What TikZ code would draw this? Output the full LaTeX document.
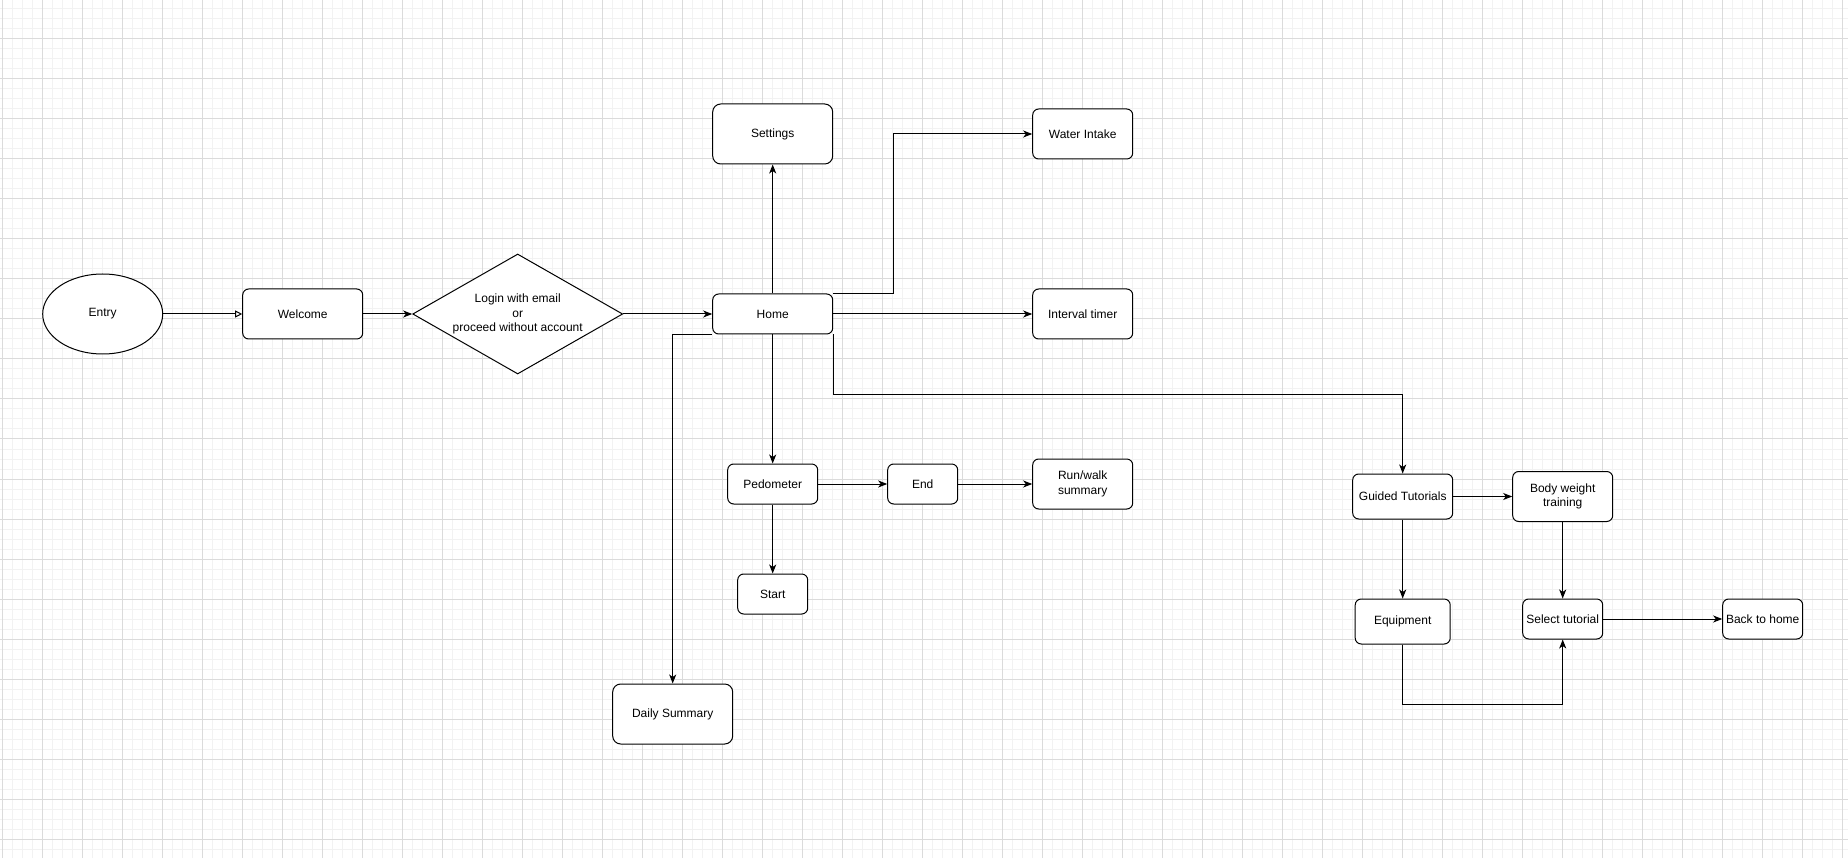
\documentclass[tikz,border=0pt]{standalone}
\usepackage{fontspec}
\setmainfont{Liberation Sans}
\usetikzlibrary{shapes.geometric,arrows.meta}
\begin{document}
\begin{tikzpicture}[x=1pt,y=-1pt,
  box/.style={draw=black, line width=1pt, rounded corners=6pt, fill=white, align=center, inner sep=0pt,
    font=\fontsize{12pt}{14.4pt}\selectfont},
  arr/.style={draw=black, line width=1pt, -{Stealth[length=9pt,width=7pt,inset=2.5pt]}},
  minorline/.style={draw=black!5, line width=1pt},
  majorline/.style={draw=black!14, line width=1pt}]
\useasboundingbox (-2.7,1) rectangle (1845.3,859);
\fill[white] (-2.7,1) rectangle (1845.3,859);
\foreach \i in {0,10,...,1840} \draw[minorline] (\i,1) -- (\i,859);
\foreach \j in {10,20,...,850} \draw[minorline] (-2.7,\j) -- (1845.3,\j);
\foreach \i in {0,40,...,1840} \draw[majorline] (\i,1) -- (\i,859);
\foreach \j in {40,80,...,840} \draw[majorline] (-2.7,\j) -- (1845.3,\j);

\node[box, ellipse, minimum width=120pt, minimum height=80pt] (entry) at (100,315) {Entry};
\node[box, minimum width=120pt, minimum height=50pt] (welcome) at (300,315) {Welcome};
\node[box, diamond, rounded corners=0pt, minimum width=210pt, minimum height=120pt, aspect=1.75] (login) at (515,315) {};
\node[font=\fontsize{12pt}{14.4pt}\selectfont, align=center] (logintext) at (515,315) {Login with email\\or\\proceed without account};
\node[box, minimum width=120pt, minimum height=40pt] (home) at (770,315) {Home};
\node[box, rounded corners=8pt, minimum width=120pt, minimum height=60pt] (settings) at (770,135) {Settings};
\node[box, minimum width=100pt, minimum height=50pt] (water) at (1080,135) {Water Intake};
\node[box, minimum width=100pt, minimum height=50pt] (interval) at (1080,315) {Interval timer};
\node[box, minimum width=90pt, minimum height=40pt] (ped) at (770,485) {Pedometer};
\node[box, minimum width=70pt, minimum height=40pt] (endn) at (920,485) {End};
\node[box, minimum width=100pt, minimum height=50pt] (run) at (1080,485) {Run/walk\\summary};
\node[box, minimum width=70pt, minimum height=40pt] (start) at (770,595) {Start};
\node[box, rounded corners=8pt, minimum width=120pt, minimum height=60pt] (daily) at (670,715) {Daily Summary};
\node[box, minimum width=100pt, minimum height=45pt] (guided) at (1400,497.5) {Guided Tutorials};
\node[box, minimum width=100pt, minimum height=50pt] (body) at (1560,497.5) {Body weight\\training};
\node[box, minimum width=95pt, minimum height=45pt] (equip) at (1400,622.5) {Equipment};
\node[box, minimum width=80pt, minimum height=40pt] (select) at (1560,620) {Select tutorial};
\node[box, minimum width=80pt, minimum height=40pt] (back) at (1760,620) {Back to home};

\draw[line width=1pt, -{Triangle[open,length=7pt,width=7pt]}] (entry) -- (welcome);
\draw[arr] (welcome) -- (login);
\draw[arr] (login) -- (home);
\draw[arr] (home) -- (settings);
\draw[arr] (home.north east) -- ++(60,0) |- (water.west);
\draw[arr] (home) -- (interval);
\draw[arr] (home.south west) -| (daily.north);
\draw[arr] (home) -- (ped);
\draw[arr] (home.south east) -- ++(0,60) -| (guided.north);
\draw[arr] (ped) -- (endn);
\draw[arr] (endn) -- (run);
\draw[arr] (ped) -- (start);
\draw[arr] (guided) -- (body);
\draw[arr] (guided) -- (equip);
\draw[arr] (body) -- (select);
\draw[arr] (equip.south) -- ++(0,60) -| (select.south);
\draw[arr] (select) -- (back);
\end{tikzpicture}
\end{document}
